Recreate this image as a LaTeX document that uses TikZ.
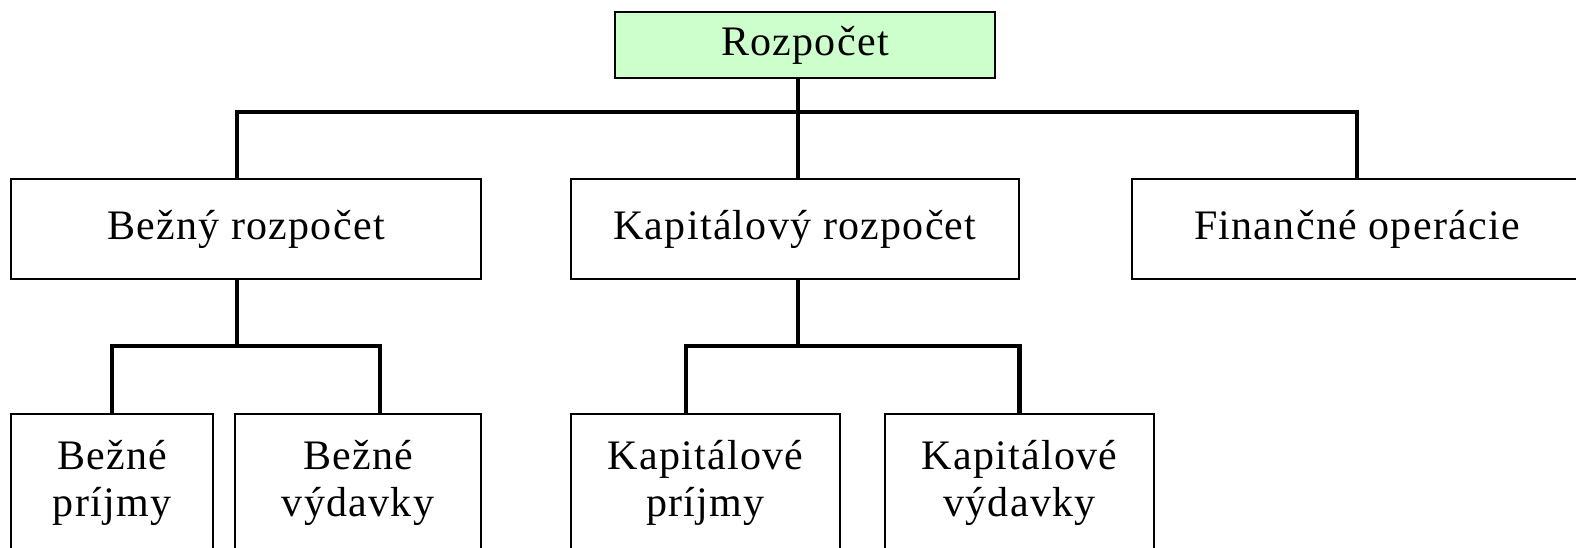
\documentclass[tikz,border=0pt]{standalone}
\usepackage{fontspec}
\setmainfont[LetterSpace=3]{Liberation Serif}
\definecolor{rootgreen}{HTML}{CCFFCC}

\begin{document}
\begin{tikzpicture}[x=0.5pt, y=-0.5pt,
    box/.style={draw=black, line width=1pt, inner sep=0pt, align=center,
      font=\fontsize{21}{23.5}\selectfont},
    conn/.style={line width=2.4pt}]
          \useasboundingbox (0,0) rectangle (1576,547);

          % boxes
          \node[box, fill=rootgreen, minimum width=190pt, minimum height=33pt] (rozpocet) at (805,45) {Rozpočet};

          \node[box, minimum width=235pt, minimum height=50pt] (bezny) at (246,229) {Bežný rozpočet};
          \node[box, minimum width=224pt, minimum height=50pt] (kapital) at (795,229) {Kapitálový rozpočet};
          \node[box, minimum width=225pt, minimum height=50pt] (financne) at (1357,229) {Finančné operácie};

          \node[box, minimum width=101pt, minimum height=69pt] (bprijmy) at (112,483) {Bežné\\príjmy};
          \node[box, minimum width=123pt, minimum height=69pt] (bvydavky) at (358,483) {Bežné\\výdavky};
          \node[box, minimum width=134.5pt, minimum height=69pt] (kprijmy) at (705.5,483) {Kapitálové\\príjmy};
          \node[box, minimum width=134.5pt, minimum height=69pt] (kvydavky) at (1019.5,483) {Kapitálové\\výdavky};

          % junctions
          \coordinate (j1) at (798,112);
          \coordinate (j2) at (237,346);
          \coordinate (j3) at (798,346);

          \draw[conn] ([xshift=-3.5pt]rozpocet.south) -- (j1);
          \draw[conn] ([xshift=-4.5pt]bezny.north) |- (j1) -| (financne.north);
          \draw[conn] (j1) -- (j1 |- kapital.north);

          \draw[conn] (j2 |- bezny.south) -- (j2);
          \draw[conn] (bprijmy.north) |- (j2) -| ([xshift=11pt]bvydavky.north);

          \draw[conn] (j3 |- kapital.south) -- (j3);
          \draw[conn] ([xshift=-9.75pt]kprijmy.north) |- (j3) -| (kvydavky.north);
\end{tikzpicture}
\end{document}
